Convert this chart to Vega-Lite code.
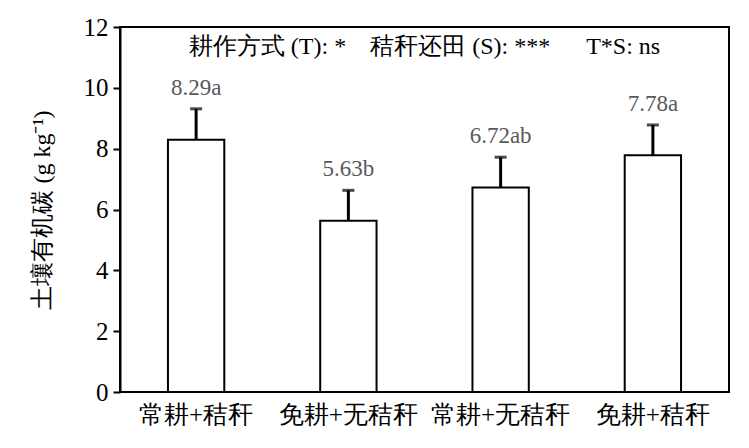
{
  "$schema": "https://vega.github.io/schema/vega-lite/v6.json",
  "width": 609,
  "height": 365,
  "autosize": {"type": "none"},
  "padding": {"left": 120, "top": 27, "right": 20, "bottom": 56},
  "background": "white",
  "config": {
    "view": {"stroke": "black", "strokeWidth": 2},
    "font": "Liberation Serif, serif"
  },
  "title": {
    "text": "耕作方式 (T): *\u00a0\u00a0\u00a0\u00a0秸秆还田 (S): ***\u00a0\u00a0\u00a0\u00a0\u00a0\u00a0T*S: ns",
    "orient": "top",
    "anchor": "middle",
    "offset": -44,
    "fontSize": 24,
    "fontWeight": "normal",
    "color": "black",
    "font": "Liberation Serif, serif"
  },
  "data": {
    "values": [
      {"trt": "常耕+秸秆", "soc": 8.29, "err": 1.02, "label": "8.29a"},
      {"trt": "免耕+无秸秆", "soc": 5.63, "err": 1.0, "label": "5.63b"},
      {"trt": "常耕+无秸秆", "soc": 6.72, "err": 1.0, "label": "6.72ab"},
      {"trt": "免耕+秸秆", "soc": 7.78, "err": 1.0, "label": "7.78a"}
    ]
  },
  "transform": [{"calculate": "datum.soc + datum.err", "as": "hi"}],
  "encoding": {
    "x": {
      "field": "trt",
      "type": "nominal",
      "sort": null,
      "scale": {"paddingInner": 0.63, "paddingOuter": 0.315},
      "axis": {
        "title": null,
        "labelAngle": 0,
        "labelFontSize": 25,
        "labelFont": "Liberation Serif, serif",
        "labelFontWeight": "normal",
        "labelColor": "black",
        "labelPadding": 10,
        "ticks": false,
        "domain": false
      }
    }
  },
  "layer": [
    {
      "mark": {"type": "bar", "fill": "white", "stroke": "black", "strokeWidth": 2},
      "encoding": {
        "y": {
          "field": "soc",
          "type": "quantitative",
          "scale": {"domain": [0, 12]},
          "axis": {
            "title": "土壤有机碳 (g kg⁻¹)",
            "titleFontSize": 24,
            "titleFontWeight": "normal",
            "titleColor": "#000000",
            "titlePadding": 29,
            "titleFont": "Liberation Serif, serif",
            "values": [0, 2, 4, 6, 8, 10, 12],
            "labelFontSize": 25,
            "labelColor": "black",
            "labelPadding": 5,
            "labelFont": "Liberation Serif, serif",
            "tickSize": 7,
            "tickColor": "black",
            "tickWidth": 2,
            "domainColor": "black",
            "domainWidth": 2,
            "grid": false
          }
        }
      }
    },
    {
      "mark": {"type": "rule", "stroke": "black", "strokeWidth": 3},
      "encoding": {
        "y": {"field": "soc", "type": "quantitative"},
        "y2": {"field": "hi"}
      }
    },
    {
      "mark": {"type": "tick", "color": "black", "thickness": 3, "size": 12, "orient": "horizontal"},
      "encoding": {
        "y": {"field": "hi", "type": "quantitative"}
      }
    },
    {
      "mark": {"type": "text", "fontSize": 23, "color": "#595959", "baseline": "bottom", "dy": -9, "font": "Liberation Serif, serif"},
      "encoding": {
        "y": {"field": "hi", "type": "quantitative"},
        "text": {"field": "label"}
      }
    }
  ]
}
